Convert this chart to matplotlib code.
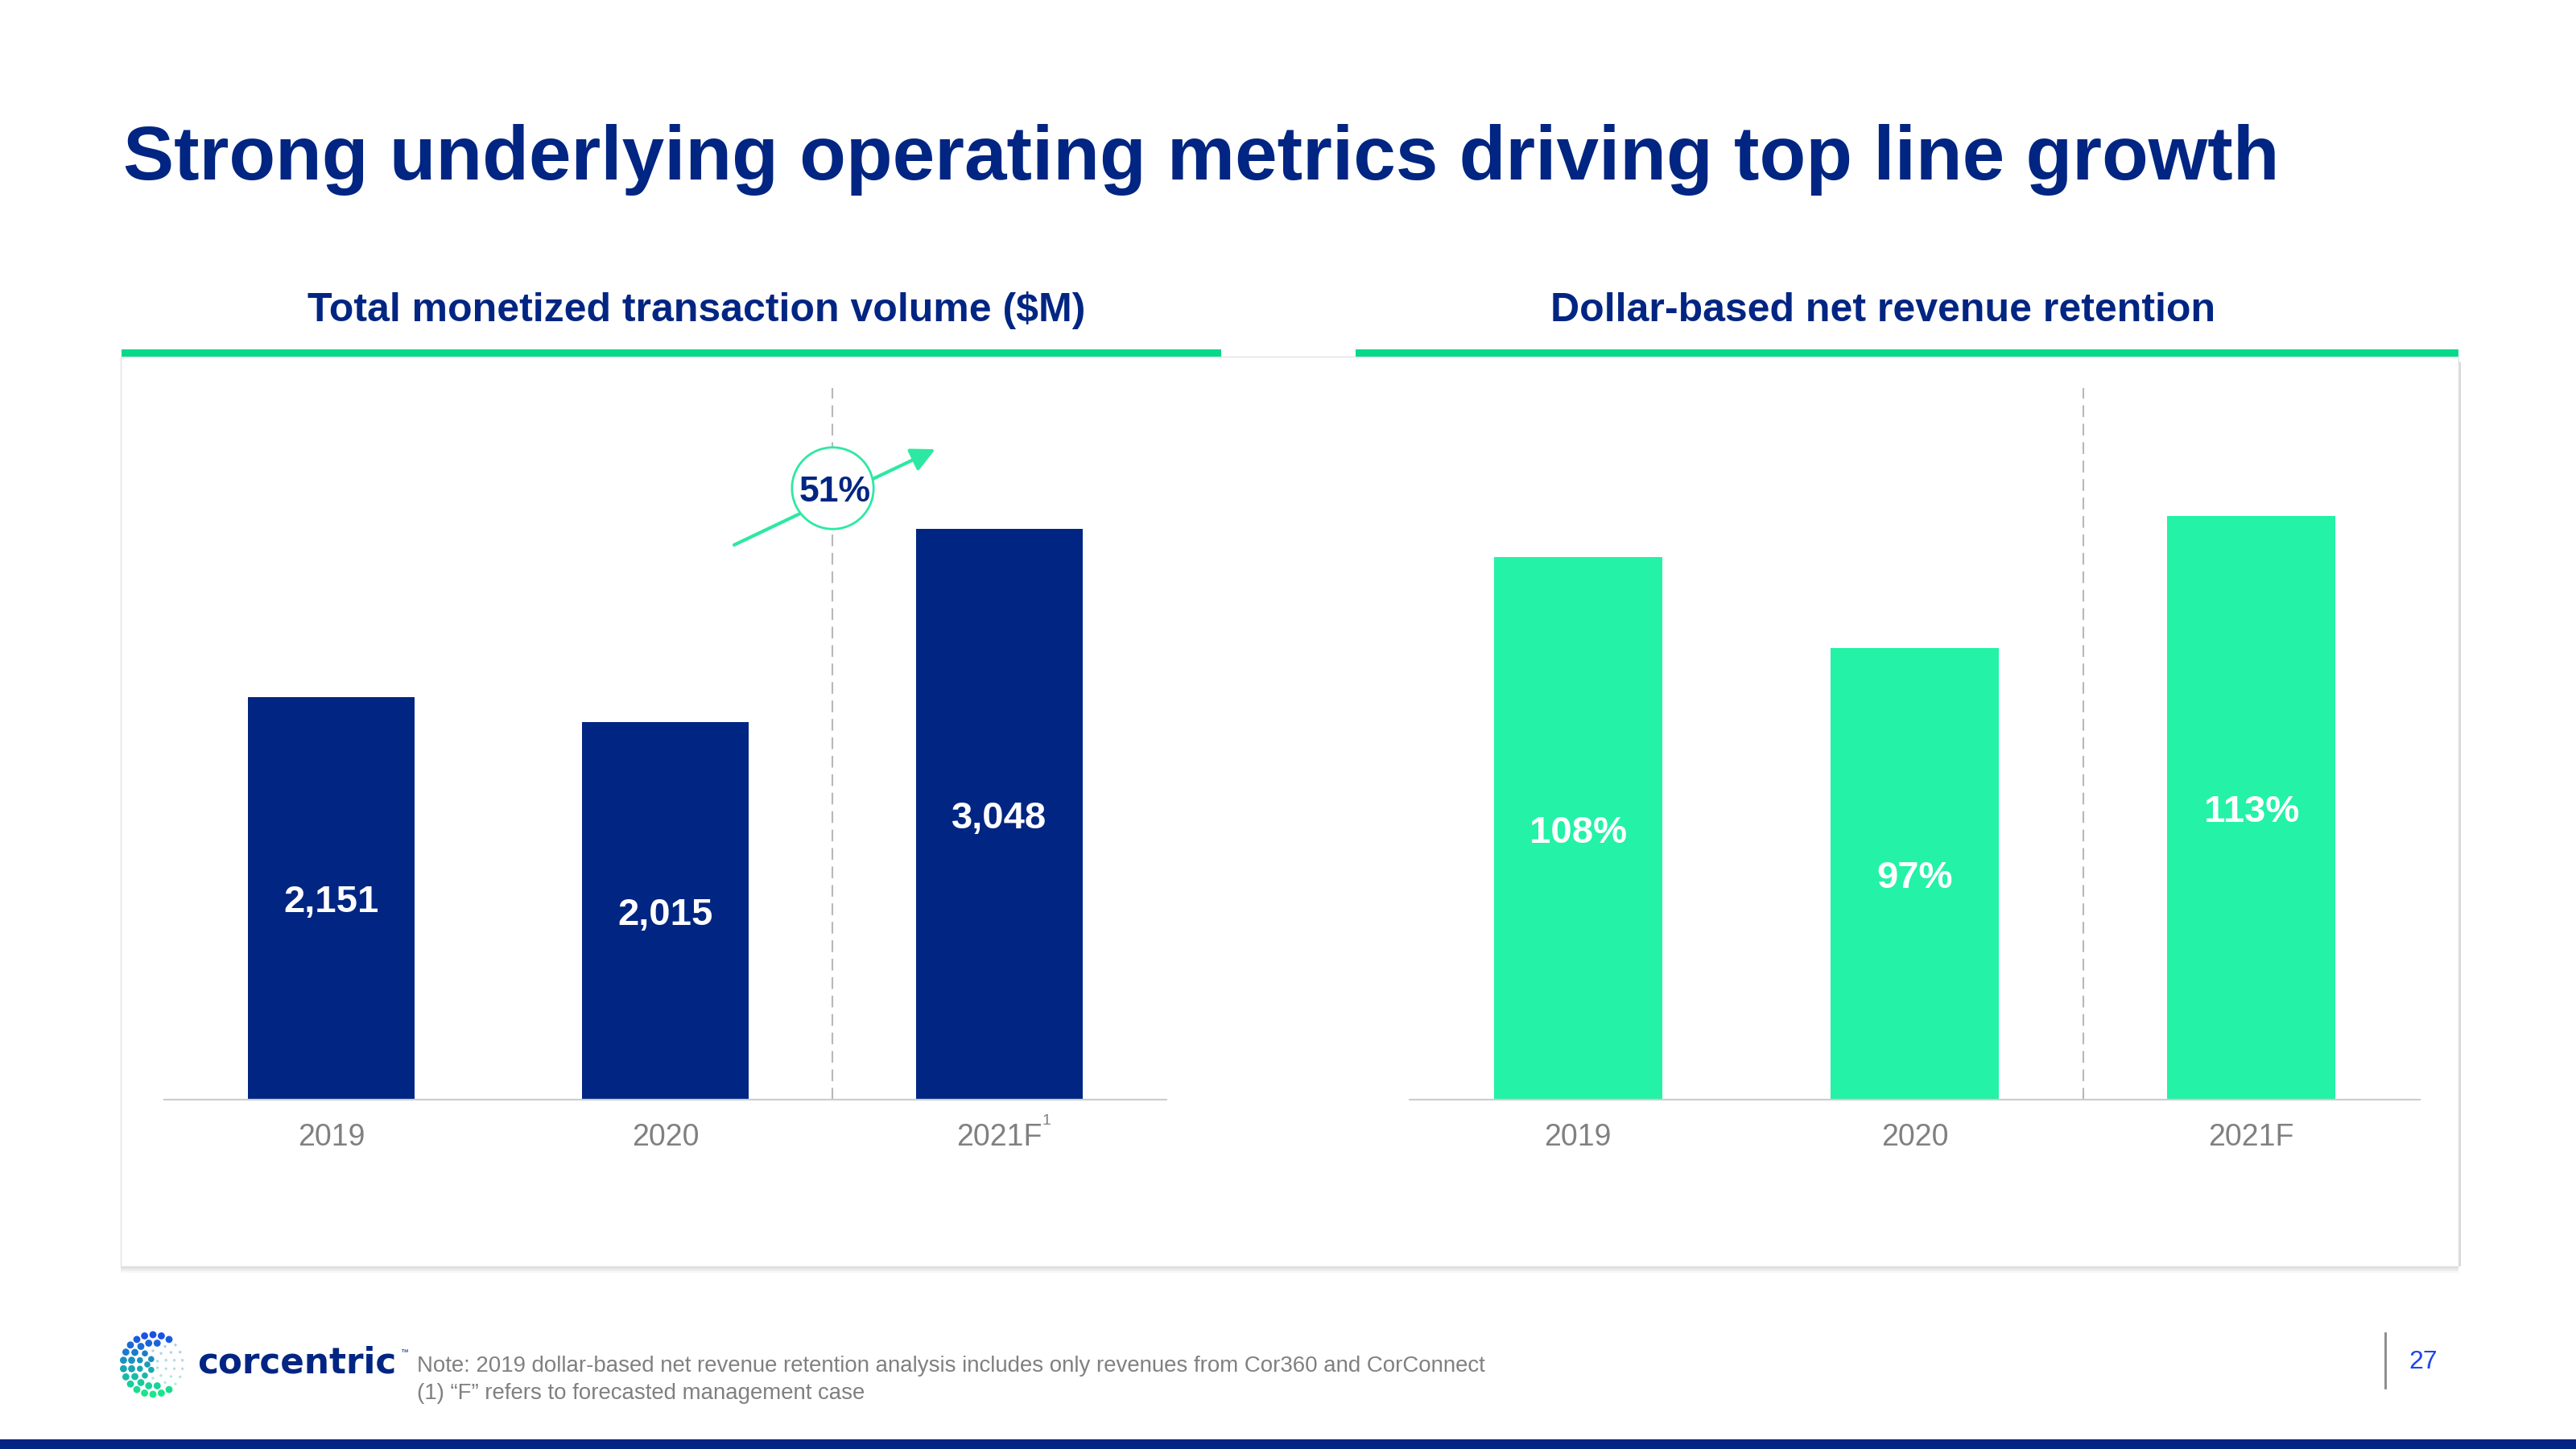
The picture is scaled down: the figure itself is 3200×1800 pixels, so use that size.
import numpy as np
import matplotlib
matplotlib.use("Agg")
import matplotlib.pyplot as plt
from matplotlib.patches import Rectangle
from matplotlib.lines import Line2D

# data
years = ["2019", "2020", "2021F"]
volume = [2151, 2015, 3048]          # total monetized transaction volume ($M)
retention = [108, 97, 113]           # dollar-based net revenue retention (%)

title = "Strong underlying operating metrics driving top line growth"
left_header = "Total monetized transaction volume ($M)"
right_header = "Dollar-based net revenue retention"
note_lines = ["Note: 2019 dollar-based net revenue retention analysis includes only revenues from Cor360 and CorConnect",
              "(1) \u201cF\u201d refers to forecasted management case"]
page_no = "27"

navy = "#012582"
bar_green = "#24F2A6"
rule_green = "#07D98B"
arrow_green = "#2DE8A2"
grey_txt = "#808080"

plt.rcParams["font.family"] = ["Liberation Sans", "DejaVu Sans"]

W, H = 3200, 1800
fig = plt.figure(figsize=(32, 18), dpi=100)

def fx(px):
    return px / W

def fy(py):
    return 1 - py / H

# title
fig.text(fx(153), fy(223), title, fontsize=68, fontweight="bold", color=navy, va="baseline", ha="left")

# panel background box with soft shadow
for k, a in enumerate([0.35, 0.25, 0.15, 0.08]):
    fig.add_artist(Rectangle((fx(150), fy(1573 + 2 * (k + 1))), fx(2904), 2 / H,
                             transform=fig.transFigure, facecolor="#9a9a9a", alpha=a, edgecolor="none", zorder=-3))
fig.add_artist(Rectangle((fx(3054), fy(1573)), 3 / W, (1573 - 450) / H, transform=fig.transFigure,
                         facecolor="#d8d8d8", edgecolor="none", zorder=-3))
fig.add_artist(Rectangle((fx(150), fy(1573)), fx(2904), (1573 - 443) / H, transform=fig.transFigure,
                         facecolor="white", edgecolor="#e2e2e2", lw=1, zorder=-2))

# green header rules
fig.add_artist(Rectangle((fx(151), fy(443)), fx(1366), 9 / H, transform=fig.transFigure,
                         facecolor=rule_green, edgecolor="none", zorder=-1))
fig.add_artist(Rectangle((fx(1684), fy(443)), fx(1370), 9 / H, transform=fig.transFigure,
                         facecolor=rule_green, edgecolor="none", zorder=-1))
fig.text(fx(865), fy(399), left_header, fontsize=36, fontweight="bold", color=navy, ha="center", va="baseline")
fig.text(fx(2339), fy(399), right_header, fontsize=36, fontweight="bold", color=navy, ha="center", va="baseline")

ax_top, ax_bot = 482, 1366
axL = fig.add_axes([fx(204), fy(ax_bot), fx(1449 - 204), (ax_bot - ax_top) / H])
axR = fig.add_axes([fx(1751), fy(ax_bot), fx(3006 - 1751), (ax_bot - ax_top) / H])

x = np.arange(len(years))

def style_axes(ax):
    ax.patch.set_visible(False)
    for s in ["top", "left", "right"]:
        ax.spines[s].set_visible(False)
    ax.spines["bottom"].set_color("#cccccc")
    ax.spines["bottom"].set_linewidth(1.5)
    ax.set_yticks([])
    ax.set_xticks(x)
    ax.set_xticklabels(years, fontsize=27, color=grey_txt)
    ax.tick_params(axis="x", length=0, pad=21)
    ax.set_xlim(-0.5, 2.5)
    ax.axvline(1.5, color="#b8b8b8", lw=1.5, dashes=(7, 4), zorder=1)

# left: transaction volume
style_axes(axL)
axL.set_ylim(0, 3800)
axL.bar(x, volume, width=0.5, color=navy, zorder=2)
for xi, v in zip(x, volume):
    axL.annotate(f"{v:,}", xy=(xi, v / 2), xytext=(0, -4), textcoords="offset points", ha="center",
                 va="center", color="white", fontsize=34, fontweight="bold", zorder=3)
axL.annotate("1", xy=(2, 0), xytext=(42, -19), textcoords="offset points", ha="center", va="center",
             fontsize=14, color=grey_txt)

# growth callout
growth = volume[2] / volume[1] - 1
axL.annotate("", xy=(1.808, 3473), xytext=(1.206, 2962),
             arrowprops=dict(arrowstyle="-|>", color=arrow_green, lw=3, mutation_scale=45,
                             shrinkA=0, shrinkB=0), zorder=4)
axL.plot([1.5], [3267], marker="o", ms=73, mfc="white", mec=arrow_green, mew=2, zorder=5, clip_on=False)
axL.annotate(f"{growth:.0%}", xy=(1.5, 3267), xytext=(2, -4), textcoords="offset points",
             ha="center", va="center", color=navy, fontsize=32, fontweight="bold", zorder=6)

# right: net revenue retention
style_axes(axR)
r_floor = 42
axR.set_ylim(r_floor, r_floor + 86.6)
axR.bar(x, [v - r_floor for v in retention], bottom=r_floor, width=0.5, color=bar_green, zorder=2)
for xi, v in zip(x, retention):
    axR.annotate(f"{v}%", xy=(xi, (r_floor + v) / 2), xytext=(0, -4), textcoords="offset points",
                 ha="center", va="center", color="white", fontsize=34, fontweight="bold", zorder=3)

# footer: logo dots
cx, cy = 190, 1695
top_c = np.array(matplotlib.colors.to_rgb("#1a4fe8"))
bot_c = np.array(matplotlib.colors.to_rgb("#19e88a"))
dot_x, dot_y, dot_s, dot_c = [], [], [], []
for r, n in [(37, 22), (27, 16), (17, 10), (7, 5)]:
    for j in range(n):
        a = 2 * np.pi * j / n + np.pi / n
        px = cx + r * np.cos(a)
        py = cy - r * np.sin(a)
        t = (py - (cy - 37)) / 74
        col = (1 - t) * top_c + t * bot_c
        opening = np.cos(a) > (0.75 if r > 30 else (0.3 if r > 20 else -0.3))
        if opening:
            col = 0.35 * col + 0.65 * np.ones(3)
            size = 6
        else:
            size = 40 if r > 20 else 30
        dot_x.append(fx(px))
        dot_y.append(fy(py))
        dot_s.append(size)
        dot_c.append(col)
logo_ax = fig.add_axes([0, 0, 1, 1])
logo_ax.set_axis_off()
logo_ax.set_xlim(0, 1)
logo_ax.set_ylim(0, 1)
logo_ax.scatter(dot_x, dot_y, s=dot_s, c=dot_c, edgecolors="none")

fig.text(fx(245), fy(1705), "corcentric", fontsize=31.5, fontweight="bold", color=navy,
         family="DejaVu Sans", va="baseline", ha="left")
fig.text(fx(497), fy(1680), "\u2122", fontsize=7, color=navy, va="center", ha="left")

fig.text(fx(518), fy(1697), note_lines[0], fontsize=19.9, color=grey_txt, va="center", ha="left")
fig.text(fx(518), fy(1731), note_lines[1], fontsize=19.9, color=grey_txt, va="center", ha="left")

# page number
fig.add_artist(Line2D([fx(2963), fx(2963)], [fy(1656), fy(1724)], transform=fig.transFigure,
                      color="#888888", lw=2))
fig.text(fx(3010), fy(1692), page_no, fontsize=23, color="#1D44EE", ha="center", va="center")

# bottom band
fig.add_artist(Rectangle((0, 0), 1, 12 / H, transform=fig.transFigure, facecolor=navy, edgecolor="none"))

fig.savefig("out.png", dpi=100, facecolor="white")
